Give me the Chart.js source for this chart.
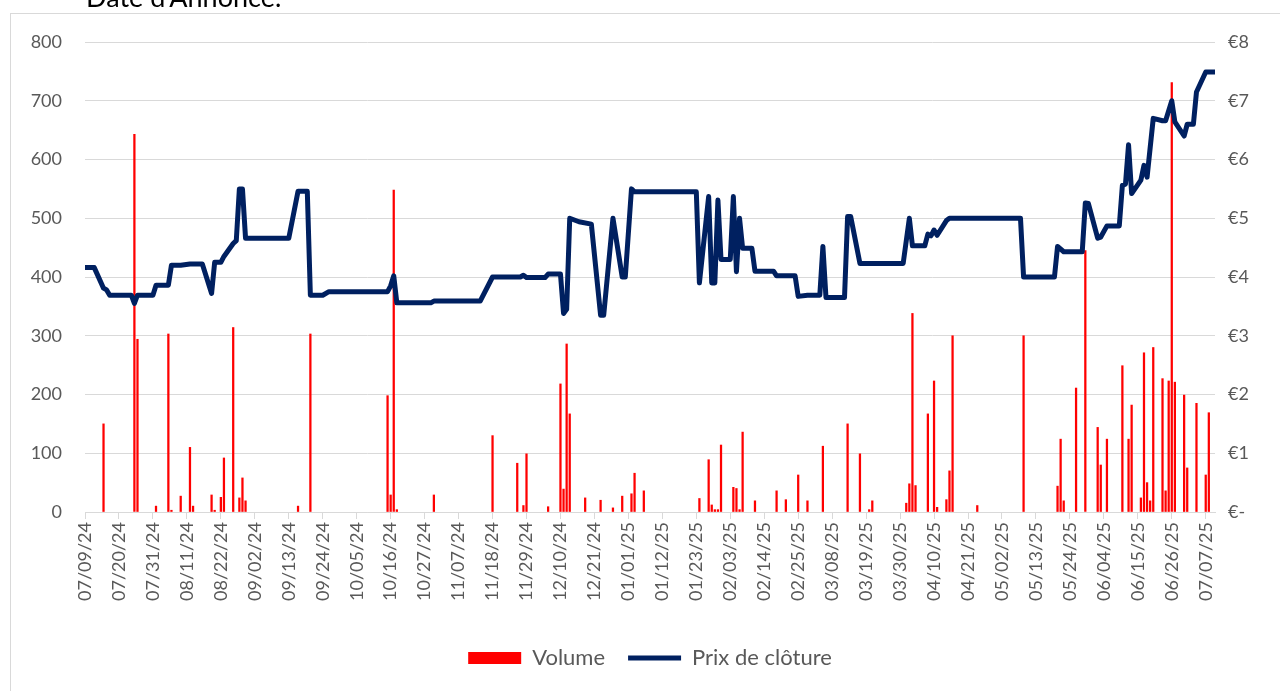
<!DOCTYPE html>
<html><head><meta charset="utf-8">
<script src="https://cdn.jsdelivr.net/npm/chart.js@4.4.1/dist/chart.umd.min.js"></script>
<style>html,body{margin:0;padding:0;background:#fff}#wrap{width:1280px;height:691px;position:relative}</style>
</head><body><div id="wrap"><canvas id="c"></canvas></div>
<script>
const pageTitle = "Date d'Annonce.";
const tickLabels = ['07/09/24','07/20/24','07/31/24','08/11/24','08/22/24','09/02/24','09/13/24','09/24/24','10/05/24','10/16/24','10/27/24','11/07/24','11/18/24','11/29/24','12/10/24','12/21/24','01/01/25','01/12/25','01/23/25','02/03/25','02/14/25','02/25/25','03/08/25','03/19/25','03/30/25','04/10/25','04/21/25','05/02/25','05/13/25','05/24/25','06/04/25','06/15/25','06/26/25','07/07/25'];

const priceDates = ['07/09/24','07/12/24','07/15/24','07/16/24','07/17/24','07/24/24','07/25/24','07/26/24','07/31/24','08/01/24','08/05/24','08/06/24','08/09/24','08/12/24','08/16/24','08/19/24','08/20/24','08/22/24','08/23/24','08/26/24','08/27/24','08/28/24','08/29/24','08/30/24','09/13/24','09/16/24','09/19/24','09/20/24','09/24/24','09/26/24','10/15/24','10/16/24','10/17/24','10/18/24','10/29/24','10/30/24','11/14/24','11/18/24','11/27/24','11/28/24','11/29/24','12/05/24','12/06/24','12/10/24','12/11/24','12/12/24','12/13/24','12/16/24','12/20/24','12/23/24','12/24/24','12/27/24','12/30/24','12/31/24','01/02/25','01/03/25','01/23/25','01/24/25','01/27/25','01/28/25','01/29/25','01/30/25','01/31/25','02/03/25','02/04/25','02/05/25','02/06/25','02/07/25','02/10/25','02/11/25','02/17/25','02/18/25','02/24/25','02/25/25','02/28/25','03/04/25','03/05/25','03/06/25','03/12/25','03/13/25','03/14/25','03/17/25','03/31/25','04/02/25','04/03/25','04/07/25','04/08/25','04/09/25','04/10/25','04/11/25','04/14/25','04/15/25','05/08/25','05/09/25','05/19/25','05/20/25','05/22/25','05/28/25','05/29/25','05/30/25','06/02/25','06/03/25','06/05/25','06/09/25','06/10/25','06/11/25','06/12/25','06/13/25','06/16/25','06/17/25','06/18/25','06/20/25','06/23/25','06/24/25','06/26/25','06/27/25','06/30/25','07/01/25','07/03/25','07/04/25','07/07/25','07/10/25'];
const closePrices = [4.16,4.16,3.81,3.78,3.69,3.69,3.55,3.69,3.69,3.86,3.86,4.20,4.20,4.22,4.22,3.72,4.25,4.25,4.35,4.57,4.62,5.50,5.50,4.66,4.66,5.46,5.46,3.69,3.69,3.75,3.75,3.85,4.02,3.56,3.56,3.59,3.59,4.00,4.00,4.03,3.99,3.99,4.05,4.05,3.38,3.45,5.00,4.94,4.90,3.35,3.35,5.00,4.00,4.00,5.50,5.45,5.45,3.90,5.37,3.90,3.90,5.31,4.30,4.30,5.37,4.09,5.00,4.49,4.49,4.10,4.10,4.02,4.02,3.67,3.69,3.69,4.52,3.65,3.65,5.03,5.03,4.23,4.23,5.00,4.53,4.53,4.73,4.70,4.80,4.71,4.96,5.00,5.00,4.00,4.00,4.52,4.43,4.43,5.26,5.25,4.66,4.68,4.87,4.87,5.56,5.58,6.25,5.42,5.65,5.90,5.70,6.70,6.66,6.66,7.00,6.64,6.40,6.60,6.60,7.15,7.49,7.49];

const volumeDates = ['07/15/24','07/25/24','07/26/24','08/01/24','08/05/24','08/06/24','08/09/24','08/12/24','08/13/24','08/19/24','08/20/24','08/22/24','08/23/24','08/26/24','08/28/24','08/29/24','08/30/24','09/16/24','09/20/24','10/15/24','10/16/24','10/17/24','10/18/24','10/30/24','11/18/24','11/26/24','11/28/24','11/29/24','12/06/24','12/10/24','12/11/24','12/12/24','12/13/24','12/18/24','12/23/24','12/27/24','12/30/24','01/02/25','01/03/25','01/06/25','01/24/25','01/27/25','01/28/25','01/29/25','01/30/25','01/31/25','02/04/25','02/05/25','02/06/25','02/07/25','02/11/25','02/18/25','02/21/25','02/25/25','02/28/25','03/05/25','03/13/25','03/17/25','03/20/25','03/21/25','04/01/25','04/02/25','04/03/25','04/04/25','04/08/25','04/10/25','04/11/25','04/14/25','04/15/25','04/16/25','04/24/25','05/09/25','05/20/25','05/21/25','05/22/25','05/26/25','05/29/25','06/02/25','06/03/25','06/05/25','06/10/25','06/12/25','06/13/25','06/16/25','06/17/25','06/18/25','06/19/25','06/20/25','06/23/25','06/24/25','06/25/25','06/26/25','06/27/25','06/30/25','07/01/25','07/04/25','07/07/25','07/08/25'];
const volumes = [150,643,294,10,303,3,27,110,10,29,3,25,92,314,24,58,19,10,303,198,29,548,4,29,130,83,11,99,9,218,39,286,167,24,20,7,27,31,66,36,23,89,12,4,4,114,42,40,4,136,19,36,21,63,19,112,150,99,4,19,15,48,338,45,167,223,8,21,70,300,11,300,44,124,19,211,445,144,80,124,249,124,182,24,271,50,19,280,227,36,223,731,221,199,75,185,63,169];

const seriesNames = ['Volume', 'Prix de clôture'];
const colors = { volume: '#FF0000', price: '#002060', grid: '#D9D9D9', text: '#595959' };

function parseDate(s) { const p = s.split('/').map(Number); return Date.UTC(2000 + p[2], p[0] - 1, p[1]); }
const T0 = parseDate(tickLabels[0]);
function toDay(s) { return Math.round((parseDate(s) - T0) / 864e5); }

Chart.defaults.font.family = 'Lato, "Open Sans", sans-serif';
Chart.defaults.font.size = 18;
Chart.defaults.color = colors.text;

const framePlugin = {
  id: 'frame',
  beforeDraw(chart) {
    const ctx = chart.ctx;
    ctx.save();
    ctx.fillStyle = '#fff';
    ctx.fillRect(0, 0, chart.width, chart.height);
    ctx.strokeStyle = colors.grid;
    ctx.lineWidth = 1;
    ctx.strokeRect(10.5, 13.5, chart.width + 40, chart.height + 40);
    ctx.fillStyle = '#000';
    ctx.font = '27px Lato, sans-serif';
    ctx.textBaseline = 'alphabetic';
    ctx.fillText(pageTitle, 86, 7);
    ctx.restore();
  }
};

new Chart(document.getElementById('c'), {
  type: 'bar',
  data: {
    datasets: [
      {
        type: 'bar', label: seriesNames[0], order: 1, yAxisID: 'y',
        data: volumeDates.map((d, i) => ({ x: toDay(d), y: volumes[i] })),
        backgroundColor: colors.volume, borderWidth: 0, barThickness: 1.6,
        grouped: false, pointStyle: 'rect'
      },
      {
        type: 'line', label: seriesNames[1], order: 0, yAxisID: 'y1',
        data: priceDates.map((d, i) => ({ x: toDay(d), y: closePrices[i] })),
        borderColor: colors.price, backgroundColor: colors.price, borderWidth: 5,
        borderJoinStyle: 'round', borderCapStyle: 'round', tension: 0,
        pointRadius: 0, pointHoverRadius: 0, pointStyle: 'line',
        pointBorderWidth: 5, pointBorderColor: colors.price, pointBackgroundColor: colors.price
      }
    ]
  },
  options: {
    responsive: true, maintainAspectRatio: false, animation: false,
    layout: { padding: { top: 42, bottom: 12, left: 0, right: 0 } },
    scales: {
      x: {
        type: 'linear', offset: false,
        min: toDay(tickLabels[0]), max: toDay(priceDates[priceDates.length - 1]),
        afterBuildTicks: (s) => { s.ticks = tickLabels.map(l => ({ value: toDay(l) })); },
        afterFit: (s) => { s.height = 112; },
        grid: { display: true, drawOnChartArea: false, drawTicks: true, tickLength: 7, color: colors.grid, offset: false },
        border: { display: true, color: colors.grid, width: 1 },
        ticks: { autoSkip: false, minRotation: 90, maxRotation: 90, padding: 3,
                 callback: (v, i) => tickLabels[i] }
      },
      y: {
        position: 'left', min: 0, max: 800,
        afterFit: (s) => { s.width = 85; },
        grid: { color: colors.grid, drawTicks: false },
        border: { display: false },
        ticks: { stepSize: 100, padding: 23 }
      },
      y1: {
        position: 'right', min: 0, max: 8,
        afterFit: (s) => { s.width = 65; },
        grid: { display: false, drawTicks: false },
        border: { display: false },
        ticks: { stepSize: 1, padding: 13, callback: (v) => v === 0 ? '€-' : '€' + v }
      }
    },
    plugins: {
      tooltip: { enabled: false },
      legend: {
        position: 'bottom', fullSize: false,
        labels: {
          usePointStyle: true, pointStyleWidth: 53, boxHeight: 12, padding: 23,
          font: { size: 22 }, color: colors.text,
          sort: (a, b) => a.datasetIndex - b.datasetIndex
        }
      }
    }
  },
  plugins: [framePlugin]
});
</script></body></html>
